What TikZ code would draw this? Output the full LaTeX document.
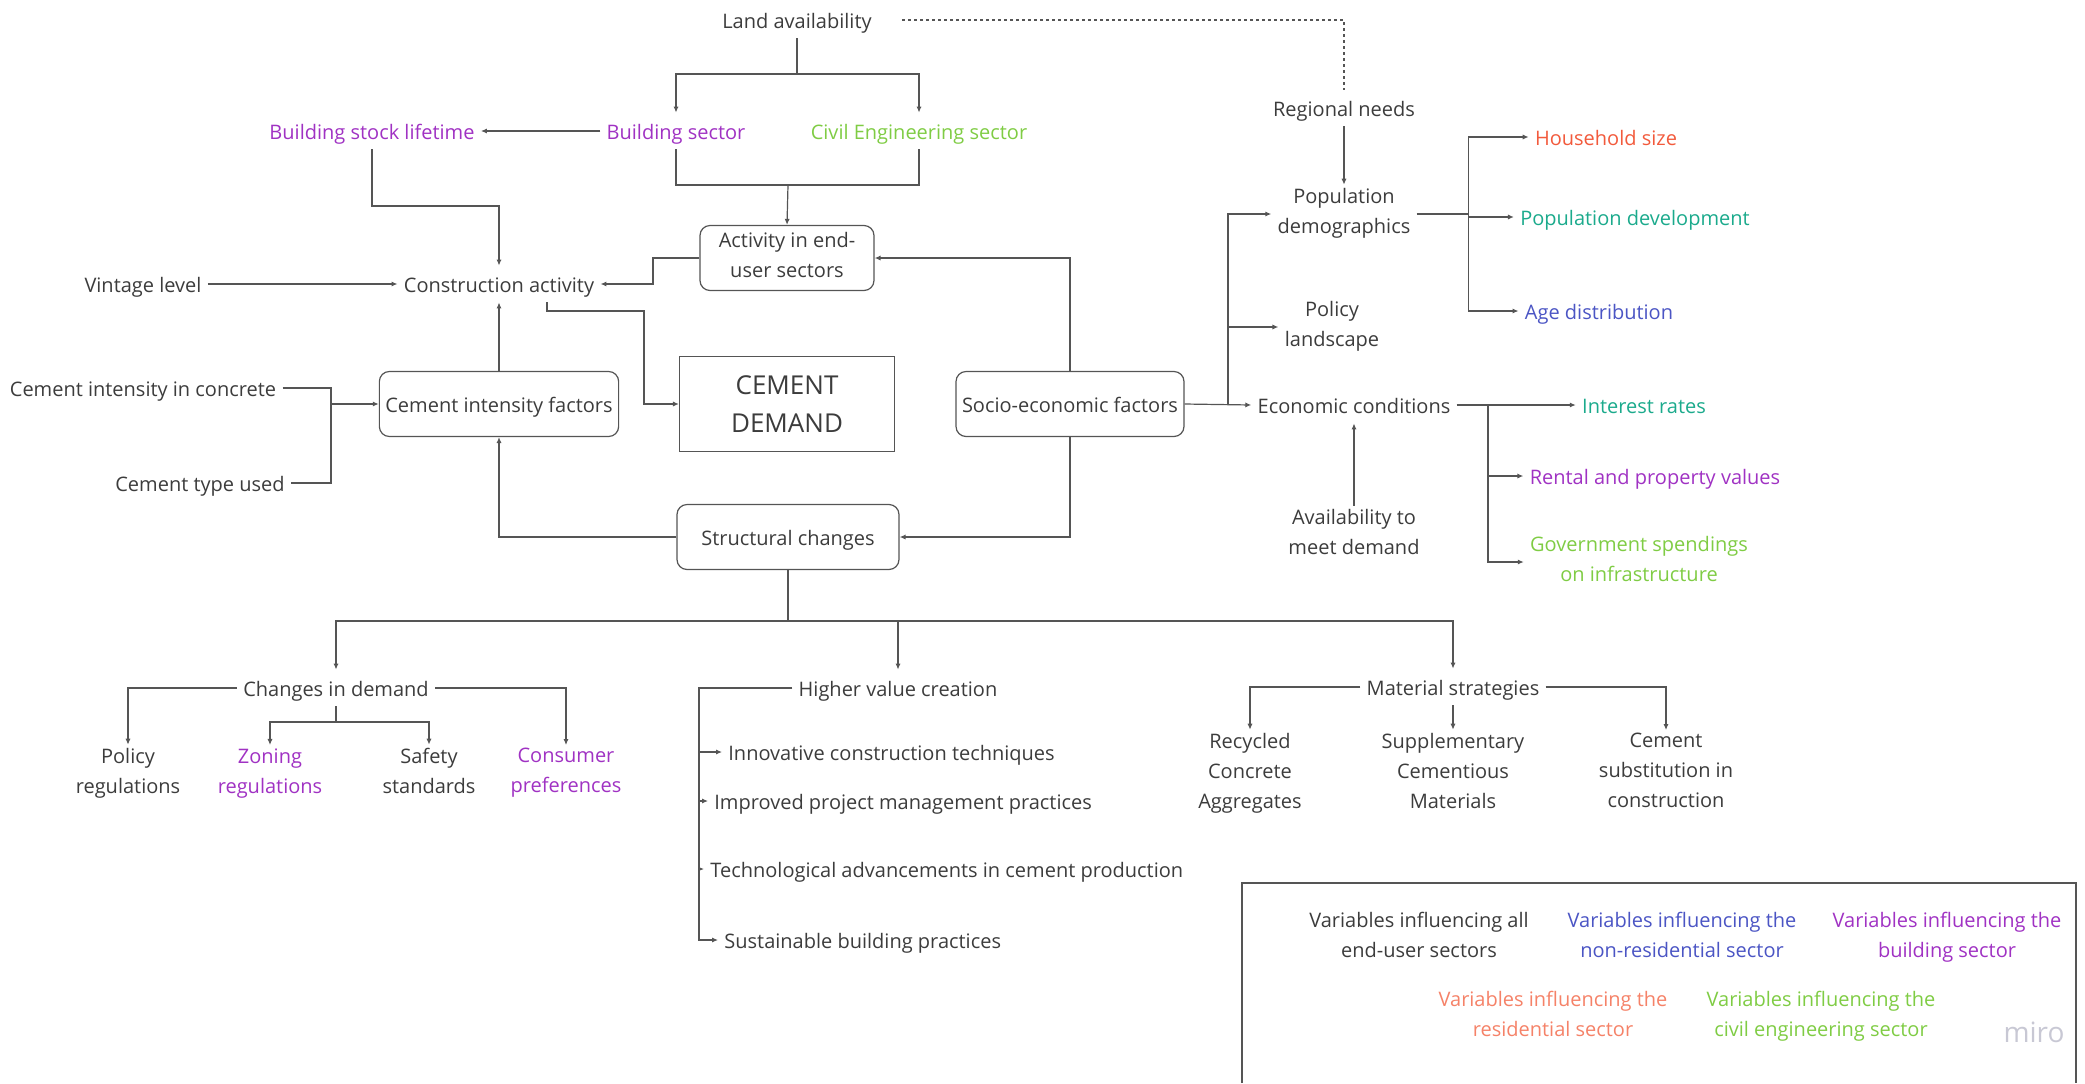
\documentclass[tikz,border=0pt]{standalone}
\usepackage{fontspec}
\setmainfont{Open Sans}
\usetikzlibrary{arrows.meta}
\definecolor{ink}{RGB}{60,60,60}
\definecolor{wire}{RGB}{85,85,85}
\definecolor{bldg}{RGB}{160,50,195}
\definecolor{civ}{RGB}{127,204,68}
\definecolor{allsec}{RGB}{27,170,140}
\definecolor{nonres}{RGB}{75,85,196}
\definecolor{resid}{RGB}{242,90,60}
\definecolor{residlight}{RGB}{245,130,104}
\definecolor{watermark}{RGB}{200,200,212}
\newcommand\lblstrut{\rule[-3.3pt]{0pt}{15pt}}
\begin{document}
\begin{tikzpicture}[x=0.5pt,y=-0.5pt,
    lbl/.style={text=ink,font=\fontsize{10}{15}\selectfont,align=center,inner xsep=3pt,inner ysep=1.5pt,
      execute at begin node=\lblstrut,execute at end node=\lblstrut},
    box/.style={lbl,draw=wire,line width=0.6pt,rounded corners=5pt,minimum height=32.5pt},
    arr/.style={draw=wire,line width=0.6pt,-{Latex[length=3pt,width=2.6pt]}},
    wire/.style={draw=wire,line width=0.6pt}]
\useasboundingbox (0,0) rectangle (2085,1083);

% upper part
\node[lbl] (land) at (797,20) {Land availability};
\node[lbl] (regional) at (1344,108) {Regional needs};
\node[lbl,text=bldg] (bsector) at (676,131) {Building sector};
\node[lbl,text=civ] (civil) at (919,131) {Civil Engineering sector};
\node[lbl,text=bldg] (lifetime) at (372,131) {Building stock lifetime};
\node[box,minimum width=87pt] (activity) at (787,258) {Activity in end-\\user sectors};
\node[lbl] (construct) at (499,284) {Construction activity};
\node[lbl] (vintage) at (143,284) {Vintage level};
\node[text=ink,align=center,draw=wire,line width=0.6pt,font=\fontsize{13}{19}\selectfont,minimum width=107.5pt,minimum height=47.5pt] (demand) at (787,404) {CEMENT\\DEMAND};
\node[box,minimum width=118pt] (cif) at (499,404) {Cement intensity factors};
\node[lbl] (concrete) at (143,388) {Cement intensity in concrete};
\node[lbl] (ctype) at (200,483) {Cement type used};
\node[box,minimum width=111pt] (socio) at (1070,404) {Socio-economic factors};
\node[box,minimum width=111pt] (struct) at (788,537) {Structural changes};

% right hand
\node[lbl] (popdem) at (1344,214) {Population\\demographics};
\node[lbl] (policyl) at (1332,327) {Policy\\landscape};
\node[lbl] (econ) at (1354,405) {Economic conditions};
\node[lbl] (avail) at (1354,535) {Availability to\\meet demand};
\node[lbl,text=resid] (household) at (1606,137) {Household size};
\node[lbl,text=allsec] (popdev) at (1635,217) {Population development};
\node[lbl,text=nonres] (age) at (1599,311) {Age distribution};
\node[lbl,text=allsec] (interest) at (1644,405) {Interest rates};
\node[lbl,text=bldg] (rental) at (1655,476) {Rental and property values};
\node[lbl,text=civ] (gov) at (1639,562) {Government spendings\\on infrastructure};

% lower part
\node[lbl] (chdem) at (336,688) {Changes in demand};
\node[lbl] (hvc) at (898,688) {Higher value creation};
\node[lbl] (matstr) at (1453,687) {Material strategies};
\node[lbl] (polreg) at (128,774) {Policy\\regulations};
\node[lbl,text=bldg] (zoning) at (270,774) {Zoning\\regulations};
\node[lbl] (safety) at (429,774) {Safety\\standards};
\node[lbl,text=bldg] (consumer) at (566,774) {Consumer\\preferences};
\node[lbl,anchor=west] (innov) at (722,752) {Innovative construction techniques};
\node[lbl,anchor=west] (improved) at (708,801) {Improved project management practices};
\node[lbl,anchor=west] (techadv) at (704,869) {Technological advancements in cement production};
\node[lbl,anchor=west] (sustain) at (718,940) {Sustainable building practices};
\node[lbl] (recycled) at (1250,774) {Recycled\\Concrete\\Aggregates};
\node[lbl] (scm) at (1453,774) {Supplementary\\Cementious\\Materials};
\node[lbl] (subst) at (1666,774) {Cement\\substitution in\\construction};

% connectors, top
\coordinate (landj) at (797,74);
\coordinate (secj) at (788,185);
\coordinate (lifej) at (499,206);
\draw[wire] (land.south) -- (landj);
\draw[arr] (landj) -| (bsector.north);
\draw[arr] (landj) -| (civil.north);
\draw[wire,dash pattern=on 1.5pt off 1.5pt,shorten <=12pt] (land.east) -| (regional.north);
\draw[arr] (bsector.west) -- (lifetime.east);
\draw[wire] (bsector.south) |- (secj) -| (civil.south);
\draw[arr] (secj) -- (activity.north);
\draw[arr] (lifetime.south) |- (lifej) -- (construct.north);
\draw[arr] (activity.west) -- (653,258) |- (construct.east);
\draw[arr] (vintage) -- (construct);
\draw[arr] ([xshift=24pt]construct.south) |- (644,311) |- (demand.west);
\draw[arr] (cif.north) -- (construct.south);
% cement inputs
\coordinate (cij) at (331,404);
\draw[wire] (concrete.east) -| (cij);
\draw[wire] (ctype.east) -| (cij);
\draw[arr] (cij) -- (cif.west);
\draw[arr] (struct.west) -| (cif.south);
% socio-economic
\coordinate (sej) at (1228,404);
\draw[arr] (socio.north) |- (activity.east);
\draw[arr] (socio.south) |- (struct.east);
\draw[arr] (socio.east) -- (econ.west);
\draw[arr] (sej) |- (popdem.west);
\draw[arr] (sej) |- (policyl.west);
\draw[arr] (regional) -- (popdem);
\draw[wire] (popdem.east) -- ++(52,0) coordinate (pdj);
\draw[arr] (pdj) |- (household.west);
\draw[arr] (pdj) |- (popdev.west);
\draw[arr] (pdj) |- (age.west);
\coordinate (ecj) at (1488,405);
\draw[arr] (econ) -- (interest);
\draw[arr] (ecj) |- (rental.west);
\draw[arr] (ecj) |- (gov.west);
\draw[arr] (avail) -- (econ);

% connectors, bottom
\coordinate (scj) at (788,621);
\draw[wire] (struct.south) -- (scj);
\draw[arr] (scj) -| (chdem.north);
\draw[arr] (scj) -| (hvc.north);
\draw[arr] (scj) -| (matstr.north);
\coordinate (cdj) at (336,722);
\draw[arr] (chdem.west) -| (polreg.north);
\draw[arr] (chdem.east) -| (consumer.north);
\draw[wire] (chdem.south) -- (cdj);
\draw[arr] (cdj) -| (zoning.north);
\draw[arr] (cdj) -| (safety.north);
\coordinate (hvj) at (699,688);
\draw[arr] (hvc.west) -- (hvj) |- (sustain.west);
\draw[arr] (hvj |- innov.west) -- (innov.west);
\draw[arr] (hvj |- improved.west) -- (improved.west);
\draw[arr] (hvj |- techadv.west) -- (techadv.west);
\draw[arr] (matstr.west) -| (recycled.north);
\draw[arr] (matstr.south) -- (scm.north);
\draw[arr] (matstr.east) -| (subst.north);

% legend
\draw[wire] (1242,1083) -- (1242,883) -- (2076,883) -- (2076,1083);
\node[lbl] (leg1) at (1419,938) {Variables influencing all\\end-user sectors};
\node[lbl,text=nonres] (leg2) at (1682,938) {Variables influencing the\\non-residential sector};
\node[lbl,text=bldg] (leg3) at (1947,938) {Variables influencing the\\building sector};
\node[lbl,text=residlight] (leg4) at (1553,1017) {Variables influencing the\\residential sector};
\node[lbl,text=civ] (leg5) at (1821,1017) {Variables influencing the\\civil engineering sector};
\node[text=watermark,font=\fontsize{14}{14}\selectfont,inner sep=0pt] (miro) at (2034,1032) {miro};
\end{tikzpicture}
\end{document}
